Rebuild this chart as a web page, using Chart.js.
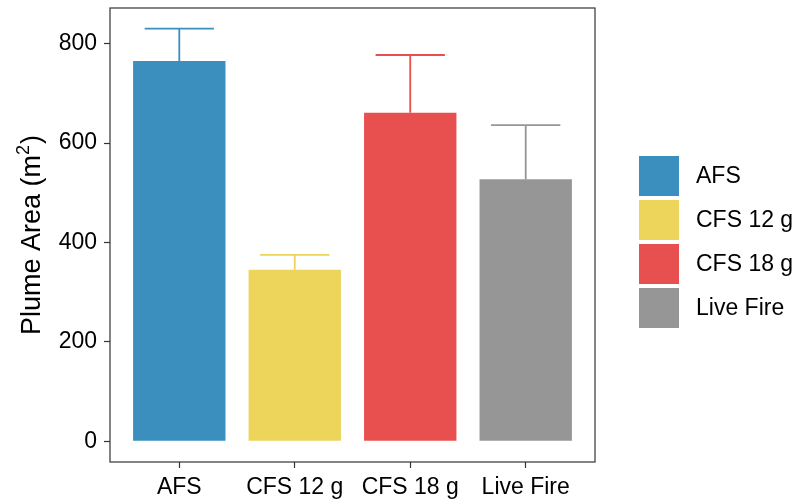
<!DOCTYPE html>
<html>
<head>
<meta charset="utf-8">
<script src="https://cdn.jsdelivr.net/npm/chart.js@4.4.1/dist/chart.umd.min.js"></script>
<style>
  html, body { margin: 0; padding: 0; background: #fff; }
  #wrap { width: 794px; height: 500px; }
</style>
</head>
<body>
<div id="wrap"><canvas id="myChart"></canvas></div>
<script>
// plume area per treatment, mean and standard error
const categories = ["AFS", "CFS 12 g", "CFS 18 g", "Live Fire"];
const means = [765, 345, 661, 527];
const errors = [65, 30, 116, 109];
const yTicks = [0, 200, 400, 600, 800];
const colors = ["#3A8FBE", "#EDD45B", "#E8504F", "#969696"];

const FONT = "'Liberation Sans', Arial, sans-serif";

// upper error bars, drawn under the bars like geom_errorbar first
const errorBars = {
  id: "errorBars",
  beforeDatasetsDraw(chart) {
    const { ctx, scales: { x, y } } = chart;
    ctx.save();
    ctx.lineWidth = 1.8;
    categories.forEach((c, i) => {
      const cx = x.getPixelForValue(i);
      const half = x.getPixelForValue(i + 0.3) - cx;
      const y0 = y.getPixelForValue(means[i]);
      const y1 = y.getPixelForValue(means[i] + errors[i]);
      ctx.strokeStyle = colors[i];
      ctx.beginPath();
      ctx.moveTo(cx, y0);
      ctx.lineTo(cx, y1);
      ctx.moveTo(cx - half, y1);
      ctx.lineTo(cx + half, y1);
      ctx.stroke();
    });
    ctx.restore();
  }
};

// panel border, y title with superscript and the fill legend
const frame = {
  id: "frame",
  afterDraw(chart) {
    const { ctx, chartArea: a } = chart;
    ctx.save();
    ctx.strokeStyle = "#333";
    ctx.lineWidth = 1.2;
    ctx.strokeRect(a.left, a.top, a.right - a.left, a.bottom - a.top);

    // y title
    const big = "27px " + FONT, small = "18px " + FONT;
    const p1 = "Plume Area (m", p2 = "2", p3 = ")";
    ctx.font = big;
    const w1 = ctx.measureText(p1).width, w3 = ctx.measureText(p3).width;
    ctx.font = small;
    const w2 = ctx.measureText(p2).width + 1;
    const total = w1 + w2 + w3;
    ctx.translate(40, (a.top + a.bottom) / 2);
    ctx.rotate(-Math.PI / 2);
    ctx.fillStyle = "#000";
    ctx.textBaseline = "alphabetic";
    ctx.textAlign = "left";
    let tx = -total / 2;
    ctx.font = big;
    ctx.fillText(p1, tx, 0);
    tx += w1;
    ctx.font = small;
    ctx.fillText(p2, tx, -11);
    tx += w2;
    ctx.font = big;
    ctx.fillText(p3, tx, 0);
    ctx.setTransform(1, 0, 0, 1, 0, 0);

    // legend
    const keyX = a.right + 44, keyTop = a.top + 148, key = 40, gap = 4;
    ctx.font = "23px " + FONT;
    ctx.textBaseline = "middle";
    categories.forEach((c, i) => {
      const ky = keyTop + i * (key + gap);
      ctx.fillStyle = colors[i];
      ctx.fillRect(keyX, ky, key, key);
      ctx.fillStyle = "#000";
      ctx.fillText(c, keyX + key + 17, ky + key / 2 + 1);
    });
    ctx.restore();
  }
};

new Chart(document.getElementById("myChart"), {
  type: "bar",
  data: {
    datasets: [{
      data: categories.map((c, i) => ({ x: i, y: means[i] })),
      backgroundColor: colors,
      borderWidth: 0,
      categoryPercentage: 1,
      barPercentage: 0.8
    }]
  },
  options: {
    responsive: true,
    maintainAspectRatio: false,
    devicePixelRatio: 1,
    animation: false,
    layout: { padding: { left: 0, top: 8, right: 199, bottom: 0 } },
    plugins: { legend: { display: false }, tooltip: { enabled: false } },
    scales: {
      x: {
        type: "linear",
        offset: false,
        min: -0.6,
        max: 3.6,
        afterFit(scale) {
          scale.height = 38;
          scale.paddingLeft = 0;
          scale.paddingRight = 0;
        },
        afterBuildTicks(scale) { scale.ticks = categories.map((c, i) => ({ value: i })); },
        grid: { display: true, drawOnChartArea: false, offset: false, tickLength: 6, tickColor: "#333", tickWidth: 1.2 },
        border: { display: false },
        ticks: {
          autoSkip: false,
          maxRotation: 0,
          padding: 6,
          color: "#000",
          font: { family: FONT, size: 23 },
          callback: v => categories[v]
        }
      },
      y: {
        min: -41.5,
        max: 871.5,
        afterFit(scale) {
          scale.width = 110;
          scale.paddingTop = 0;
          scale.paddingBottom = 0;
        },
        afterBuildTicks(scale) { scale.ticks = yTicks.map(v => ({ value: v })); },
        grid: { display: true, drawOnChartArea: false, tickLength: 6, tickColor: "#333", tickWidth: 1.2 },
        border: { display: false },
        ticks: {
          padding: 7,
          color: "#000",
          font: { family: FONT, size: 23 }
        }
      }
    }
  },
  plugins: [errorBars, frame]
});
</script>
</body>
</html>
